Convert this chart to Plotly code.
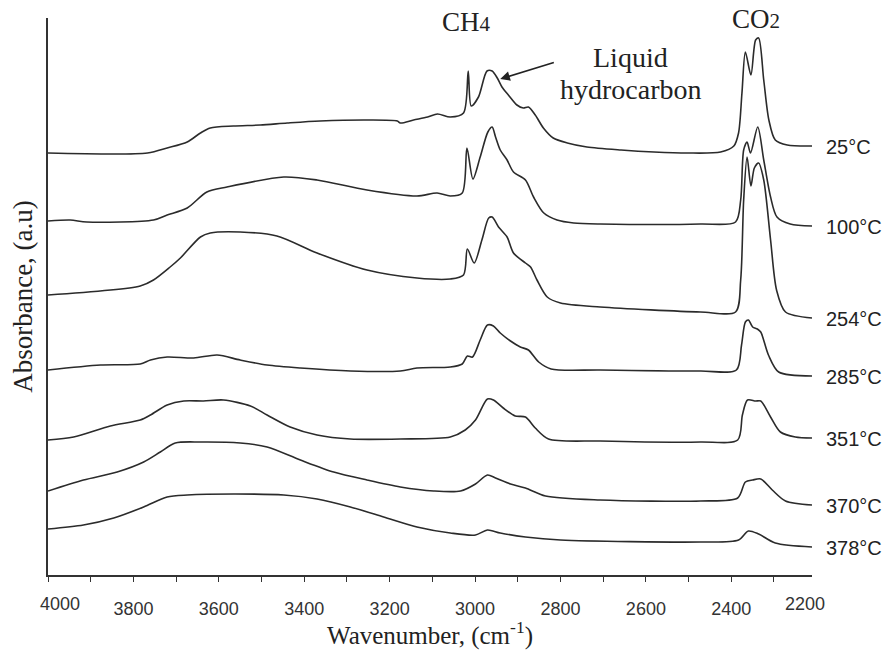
import plotly.graph_objects as go

# ---------------- data (wavenumber cm^-1, absorbance a.u., offset stacked) ----------------
temps = ["25°C", "100°C", "254°C", "285°C", "351°C", "370°C", "378°C"]

wn_25 = [4000, 3767, 3721, 3674, 3643, 3620, 3566, 3503, 3440, 3363, 3252, 3182, 3175, 3144, 3111, 3088, 3058,
         3027, 3016, 3009, 2992, 2972, 2960, 2948, 2937, 2922, 2902, 2887, 2875, 2859, 2840, 2817, 2784, 2738,
         2658, 2581, 2503, 2425, 2394, 2383, 2375, 2367, 2354, 2343, 2336, 2324, 2312, 2297, 2269, 2211]
ab_25 = [4.22, 4.22, 4.27, 4.33, 4.42, 4.47, 4.49, 4.50, 4.52, 4.54, 4.55, 4.54, 4.52, 4.55, 4.58, 4.61, 4.58,
         4.62, 5.04, 4.69, 4.78, 5.04, 5.04, 4.97, 4.88, 4.80, 4.70, 4.67, 4.68, 4.60, 4.47, 4.37, 4.32, 4.28,
         4.25, 4.23, 4.22, 4.23, 4.29, 4.42, 4.82, 5.23, 5.00, 5.35, 5.37, 4.95, 4.55, 4.35, 4.30, 4.29]

wn_100 = [4000, 3948, 3909, 3753, 3721, 3674, 3628, 3581, 3448, 3370, 3253, 3136, 3089, 3058, 3030, 3019, 3005,
          2988, 2970, 2960, 2952, 2941, 2925, 2910, 2882, 2863, 2839, 2808, 2769, 2707, 2472, 2390, 2378, 2371,
          2363, 2355, 2338, 2324, 2308, 2293, 2262, 2211]
ab_100 = [3.54, 3.55, 3.53, 3.55, 3.60, 3.67, 3.83, 3.88, 3.98, 3.95, 3.85, 3.79, 3.82, 3.79, 3.82, 4.27, 3.96,
          4.18, 4.43, 4.48, 4.38, 4.25, 4.15, 4.03, 3.95, 3.78, 3.62, 3.55, 3.52, 3.51, 3.51, 3.53, 3.75, 4.25,
          4.33, 4.22, 4.48, 4.15, 3.78, 3.58, 3.51, 3.49]

wn_254 = [4000, 3784, 3753, 3714, 3690, 3643, 3620, 3550, 3464, 3370, 3253, 3136, 3058, 3027, 3018, 3002, 2984,
          2968, 2960, 2945, 2925, 2910, 2882, 2870, 2855, 2831, 2800, 2707, 2472, 2390, 2378, 2371, 2363, 2354,
          2346, 2336, 2324, 2308, 2294, 2273, 2211]
ab_254 = [2.80, 2.89, 2.95, 3.08, 3.17, 3.38, 3.42, 3.43, 3.39, 3.22, 3.05, 2.97, 2.96, 3.00, 3.26, 3.12, 3.35,
          3.57, 3.58, 3.48, 3.38, 3.22, 3.12, 3.08, 2.95, 2.78, 2.72, 2.68, 2.63, 2.63, 2.95, 3.75, 4.18, 3.89,
          4.07, 4.12, 3.95, 3.35, 2.85, 2.63, 2.57]

wn_285 = [4000, 3877, 3784, 3760, 3721, 3659, 3604, 3550, 3487, 3409, 3292, 3175, 3136, 3058, 3030, 3018, 3006,
          2988, 2971, 2957, 2941, 2917, 2894, 2875, 2851, 2822, 2707, 2472, 2388, 2376, 2367, 2360, 2350, 2339,
          2331, 2313, 2289, 2211]
ab_285 = [2.05, 2.10, 2.11, 2.15, 2.18, 2.17, 2.20, 2.15, 2.10, 2.07, 2.04, 2.04, 2.07, 2.08, 2.11, 2.19, 2.18,
          2.35, 2.50, 2.49, 2.42, 2.34, 2.28, 2.25, 2.13, 2.06, 2.05, 2.04, 2.05, 2.30, 2.53, 2.55, 2.48, 2.46,
          2.43, 2.20, 2.03, 1.99]

wn_351 = [4000, 3940, 3854, 3784, 3760, 3721, 3682, 3636, 3589, 3526, 3487, 3433, 3370, 3292, 3175, 3058, 3023,
          2999, 2971, 2957, 2934, 2906, 2882, 2859, 2828, 2707, 2472, 2385, 2374, 2362, 2343, 2331, 2308, 2285,
          2250, 2211]
ab_351 = [1.35, 1.38, 1.49, 1.55, 1.60, 1.70, 1.74, 1.74, 1.75, 1.69, 1.60, 1.48, 1.40, 1.36, 1.36, 1.38, 1.45,
          1.55, 1.76, 1.75, 1.67, 1.59, 1.58, 1.47, 1.36, 1.34, 1.33, 1.35, 1.60, 1.75, 1.74, 1.74, 1.58, 1.43,
          1.38, 1.37]

wn_370 = [4000, 3917, 3838, 3776, 3737, 3702, 3643, 3550, 3487, 3409, 3331, 3253, 3175, 3097, 3034, 2999, 2971,
          2952, 2917, 2882, 2835, 2707, 2472, 2385, 2367, 2350, 2331, 2304, 2273, 2211]
ab_370 = [0.84, 0.95, 1.03, 1.13, 1.23, 1.32, 1.33, 1.32, 1.28, 1.15, 1.03, 0.95, 0.88, 0.84, 0.84, 0.91, 1.00,
          0.97, 0.91, 0.87, 0.79, 0.75, 0.74, 0.77, 0.93, 0.95, 0.96, 0.85, 0.74, 0.70]

wn_378 = [4000, 3917, 3846, 3776, 3721, 3674, 3565, 3448, 3370, 3292, 3214, 3136, 3058, 2999, 2971, 2941, 2882,
          2800, 2472, 2383, 2360, 2336, 2297, 2211]
ab_378 = [0.46, 0.50, 0.57, 0.68, 0.78, 0.80, 0.81, 0.80, 0.76, 0.68, 0.58, 0.48, 0.42, 0.40, 0.45, 0.42, 0.38,
          0.35, 0.33, 0.35, 0.44, 0.41, 0.32, 0.28]

wavenumbers = [wn_25, wn_100, wn_254, wn_285, wn_351, wn_370, wn_378]
absorbances = [ab_25, ab_100, ab_254, ab_285, ab_351, ab_370, ab_378]

x_range = [4000, 2211]
y_range = [0, 5.57]
major_ticks = [3800, 3600, 3400, 3200, 3000, 2800, 2600, 2400]
edge_ticks = [4000, 2200]

LINE = "#2b2b2b"
SANS = "Liberation Sans, Arial, sans-serif"
SERIF = "Liberation Serif, Times New Roman, serif"

fig = go.Figure()
for name, xs, ys in zip(temps, wavenumbers, absorbances):
    fig.add_trace(go.Scatter(x=xs, y=ys, mode="lines", name=name,
                             line=dict(color=LINE, width=1.6, shape="spline", smoothing=0.8),
                             showlegend=False, hoverinfo="skip"))
    # temperature label at right end of trace
    fig.add_annotation(x=1, xref="paper", y=ys[-1], yref="y", text=name, showarrow=False,
                       xanchor="left", yanchor="middle", xshift=12, yshift=-1,
                       font=dict(family=SANS, size=20, color="#222"))

# edge tick labels (drawn slightly inside the axis ends as in the original)
span = x_range[0] - x_range[1]
for val, shift in zip(edge_ticks, [12, -12]):
    fig.add_annotation(x=(x_range[0] - val) / span, xref="paper", y=0, yref="paper",
                       text=str(val), showarrow=False, xanchor="center", yanchor="top",
                       xshift=shift, yshift=-17, font=dict(family=SANS, size=18, color="#333"))

# peak labels
fig.add_annotation(x=3020, y=5.53, text="CH<span style='font-size:21px'>4</span>", showarrow=False,
                   font=dict(family=SERIF, size=27, color="#222"))
fig.add_annotation(x=2343, y=5.56, text="CO<span style='font-size:21px'>2</span>", showarrow=False,
                   font=dict(family=SERIF, size=27, color="#222"))
fig.add_annotation(x=2636, y=5.18, text="Liquid", showarrow=False,
                   font=dict(family=SERIF, size=28, color="#222"))
fig.add_annotation(x=2636, y=4.86, text="hydrocarbon", showarrow=False,
                   font=dict(family=SERIF, size=28, color="#222"))
fig.add_annotation(x=2941, y=4.96, ax=2812, ay=5.13, axref="x", ayref="y", text="",
                   showarrow=True, arrowhead=2, arrowsize=1.2, arrowwidth=1.6, arrowcolor="#222")

fig.update_xaxes(range=x_range, showline=True, linecolor="#333", linewidth=1.5, automargin=False,
                 tickmode="array", tickvals=major_ticks, ticktext=[str(v) for v in major_ticks],
                 ticks="outside", ticklen=5, tickwidth=1.3, tickcolor="#333",
                 minor=dict(dtick=100, tick0=4000, ticks="outside", ticklen=5, tickwidth=1.3, tickcolor="#333"),
                 ticklabelstandoff=12,
                 tickfont=dict(family=SANS, size=18, color="#333"),
                 showgrid=False, zeroline=False,
                 title=dict(text="Wavenumber, (cm<sup>-1</sup>)", standoff=14,
                            font=dict(family=SERIF, size=25, color="#222")))
fig.update_yaxes(range=y_range, showline=True, linecolor="#333", linewidth=1.5, automargin=False,
                 showticklabels=False, ticks="", showgrid=False, zeroline=False,
                 title=dict(text="Absorbance, (a.u)", standoff=6,
                            font=dict(family=SERIF, size=27, color="#222")))

fig.update_layout(width=884, height=650, margin=dict(l=48, r=72, t=18, b=75),
                  plot_bgcolor="white", paper_bgcolor="white")

fig.write_html("out.html")
